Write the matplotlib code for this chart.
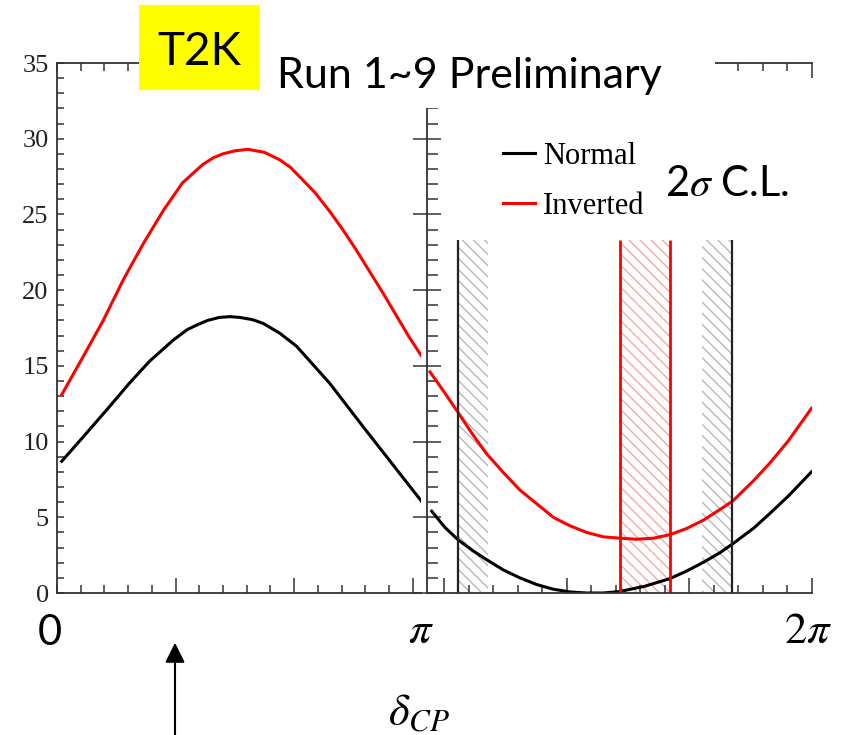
import numpy as np
import matplotlib
matplotlib.use('Agg')
import matplotlib.pyplot as plt
from matplotlib.ticker import FixedLocator, MultipleLocator
from matplotlib.patches import Rectangle, FancyArrowPatch

# delta_CP (rad) and delta chi^2
# left panel: 0 .. pi
dcp_left_inv = [0.04, 0.22, 0.39, 0.56, 0.73, 0.90, 1.06, 1.23, 1.32, 1.40, 1.50, 1.61, 1.75,
                1.88, 1.97, 2.07, 2.18, 2.30, 2.41, 2.52, 2.75, 2.97, 3.07]
chi2_left_inv = [13.1, 15.6, 18.0, 20.7, 23.1, 25.3, 27.1, 28.3, 28.75, 29.0, 29.2, 29.3, 29.1,
                 28.6, 28.1, 27.3, 26.4, 25.2, 24.0, 22.7, 19.8, 16.9, 15.7]
dcp_left_nor = [0.04, 0.22, 0.42, 0.61, 0.78, 0.98, 1.10, 1.18, 1.27, 1.37, 1.46, 1.54, 1.65,
                1.74, 1.88, 2.02, 2.30, 2.58, 2.86, 3.07]
chi2_left_nor = [8.7, 10.3, 12.1, 13.85, 15.3, 16.7, 17.4, 17.7, 18.0, 18.2, 18.25, 18.2, 18.05,
                 17.8, 17.15, 16.3, 13.85, 11.0, 8.2, 6.1]

# right panel: pi .. 2pi
dcp_right_inv = [3.166, 3.288, 3.397, 3.520, 3.628, 3.765, 3.900, 4.036, 4.172, 4.308, 4.444,
                 4.580, 4.716, 4.852, 4.990, 5.124, 5.260, 5.395, 5.530, 5.640, 5.810, 5.939,
                 6.090, 6.279]
chi2_right_inv = [14.6, 13.2, 11.9, 10.4, 9.2, 7.95, 6.8, 5.9, 5.0, 4.44, 4.0, 3.71, 3.62, 3.55,
                  3.62, 3.85, 4.26, 4.8, 5.5, 6.1, 7.45, 8.58, 10.05, 12.2]
dcp_right_nor = [3.180, 3.288, 3.397, 3.520, 3.628, 3.765, 3.900, 4.036, 4.172, 4.308, 4.444,
                 4.580, 4.716, 4.920, 5.124, 5.260, 5.395, 5.530, 5.640, 5.810, 5.939, 6.090,
                 6.279]
chi2_right_nor = [5.4, 4.33, 3.5, 2.77, 2.2, 1.52, 1.0, 0.56, 0.25, 0.07, 0.0, 0.0, 0.1, 0.45,
                  0.95, 1.45, 2.02, 2.65, 3.27, 4.3, 5.25, 6.4, 8.0]

# 2 sigma C.L. edges
normal_edges = [3.395, 5.630]
normal_hatch = [(3.395, 3.640), (5.385, 5.630)]
inverted_edges = [4.716, 5.124]
cl_height = 23.3

plt.rcParams['mathtext.fontset'] = 'stix'
W, H = 847, 735
fig = plt.figure(figsize=(W / 100, H / 100), dpi=100)

def fx(px):
    return px / W

def fy(py):
    return 1 - py / H

serif = 'Liberation Serif'
sans = 'Lato'
axcol = '#333333'

ax1 = fig.add_axes([fx(57), fy(593), fx(421) - fx(57), fy(63) - fy(593)])
ax2 = fig.add_axes([fx(427), fy(593), fx(812) - fx(427), fy(63) - fy(593)])

ax1.plot(dcp_left_inv, chi2_left_inv, color='#ff0000', lw=2.2)
ax1.plot(dcp_left_nor, chi2_left_nor, color='black', lw=2.2)
ax1.set_xlim(0, 3.07)

ax2.plot(dcp_right_nor, chi2_right_nor, color='black', lw=2.2, label='Normal')
ax2.plot(dcp_right_inv, chi2_right_inv, color='#ff0000', lw=2.2, label='Inverted')
ax2.set_xlim(np.pi, 2 * np.pi)

# confidence regions
for x0, x1 in normal_hatch:
    ax2.fill_between([x0, x1], 0, cl_height, facecolor='none', edgecolor='#b8b8b8',
                     hatch='\\\\\\', linewidth=0)
ax2.fill_between(inverted_edges, 0, cl_height, facecolor='none', edgecolor='#f5a8a8',
                 hatch='\\\\\\', linewidth=0)
ax2.vlines(normal_edges, 0, cl_height, color='#222222', lw=1.6)
ax2.vlines(inverted_edges, 0, cl_height, color='#ff0000', lw=2.0)

for ax in (ax1, ax2):
    ax.set_ylim(0, 35)
    ax.spines['right'].set_visible(False)
    for s in ('left', 'bottom', 'top'):
        ax.spines[s].set_color(axcol)
        ax.spines[s].set_linewidth(1.3)
    ax.tick_params(axis='x', which='both', direction='in', top=True, bottom=True,
                   labelbottom=False, color=axcol, width=1.1)
    ax.tick_params(axis='x', which='major', length=11)
    ax.tick_params(axis='x', which='minor', length=6)

ax1.xaxis.set_major_locator(FixedLocator([1, 2, 3]))
ax1.xaxis.set_minor_locator(MultipleLocator(0.2))
ax1.yaxis.set_major_locator(MultipleLocator(5))
ax1.yaxis.set_minor_locator(MultipleLocator(1))
ax1.tick_params(axis='y', which='both', direction='in', length=5, color=axcol, width=1.1,
                labelsize=19, pad=6)
for lab in ax1.get_yticklabels():
    lab.set_fontfamily(serif)
    lab.set_color('#222222')

ax2.xaxis.set_major_locator(FixedLocator(2 * np.pi - np.arange(0, 4)))
ax2.xaxis.set_minor_locator(FixedLocator(2 * np.pi - np.arange(0, 3.2, 0.2)))
ax2.yaxis.set_major_locator(MultipleLocator(5))
ax2.yaxis.set_minor_locator(MultipleLocator(1))
ax2.tick_params(axis='y', which='major', direction='inout', length=20, color=axcol,
                width=1.1, labelleft=False)
ax2.tick_params(axis='y', which='minor', direction='in', length=8, color=axcol, width=1.1)

ax2.legend(loc='upper left', bbox_to_anchor=(fx(503), fy(142)), bbox_transform=fig.transFigure,
           frameon=False, prop={'family': serif, 'size': 22}, handlelength=1.05,
           handletextpad=0.25, labelspacing=0.68, borderpad=0, borderaxespad=0)

# slide overlays
fig.patches.append(Rectangle((fx(260), fy(108)), fx(715) - fx(260), fy(40) - fy(108),
                             transform=fig.transFigure, facecolor='white', edgecolor='none',
                             zorder=5))
fig.patches.append(Rectangle((fx(139), fy(90)), fx(260) - fx(139), fy(5) - fy(90),
                             transform=fig.transFigure, facecolor='#ffff00', edgecolor='none',
                             zorder=6))
fig.text(fx(199), fy(65), 'T2K', family=sans, fontsize=33, ha='center', va='baseline', zorder=7)
fig.text(fx(277), fy(88), 'Run 1~9 Preliminary', family=sans, fontsize=31, ha='left',
         va='baseline', zorder=7)
fig.text(fx(665), fy(196), r'2$\sigma$ C.L.', family=sans, fontsize=30, ha='left', va='baseline',
         zorder=7)

fig.text(fx(50), fy(645), '0', family=sans, fontsize=30, ha='center', va='baseline')
fig.text(fx(421), fy(643), r'$\pi$', fontsize=32, ha='center', va='baseline')
fig.text(fx(808), fy(643), r'$2\pi$', fontsize=32, ha='center', va='baseline')
fig.text(fx(388), fy(725), r'$\delta_{CP}$', fontsize=32, ha='left', va='baseline')

fig.patches.append(FancyArrowPatch((fx(175), fy(740)), (fx(175), fy(640)),
                                   transform=fig.transFigure, arrowstyle='-|>,head_length=0.6,head_width=0.3',
                                   mutation_scale=20, color='black', lw=1.5))

fig.savefig('out.png', dpi=100)
